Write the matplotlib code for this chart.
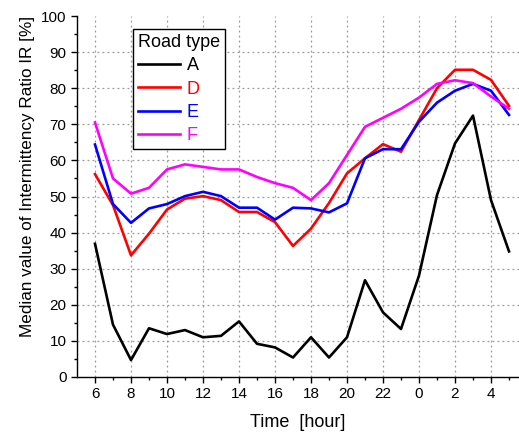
import matplotlib
matplotlib.use("Agg")
import matplotlib.pyplot as plt

plt.rcParams['font.family'] = ['Liberation Sans', 'DejaVu Sans']

hours = [6, 7, 8, 9, 10, 11, 12, 13, 14, 15, 16, 17, 18, 19, 20, 21, 22, 23, 0, 1, 2, 3, 4, 5]
road_types = ['A', 'D', 'E', 'F']
colors = ['#000000', '#ff0000', '#0000ff', '#ff00ff']

ir_A = [36.9, 14.5, 4.7, 13.5, 11.9, 13.0, 11.0, 11.4, 15.4, 9.2, 8.2, 5.4,
        11.0, 5.4, 11.0, 26.8, 17.9, 13.3, 28.1, 50.4, 64.7, 72.4, 49.0, 34.8]
ir_D = [56.2, 47.6, 33.7, 39.7, 46.4, 49.4, 50.1, 49.0, 45.7, 45.7, 42.9, 36.3,
        41.1, 48.2, 56.4, 60.6, 64.5, 62.4, 71.2, 80.0, 85.1, 85.1, 82.3, 75.1]
ir_E = [64.4, 47.9, 42.7, 46.7, 47.9, 50.1, 51.3, 50.1, 46.9, 46.9, 43.6, 46.9,
        46.7, 45.6, 48.1, 60.6, 63.1, 63.1, 70.7, 76.0, 79.3, 81.2, 79.3, 72.6]
ir_F = [70.5, 55.0, 50.8, 52.4, 57.5, 58.9, 58.2, 57.5, 57.5, 55.4, 53.7, 52.4,
        49.0, 53.7, 61.5, 69.3, 71.8, 74.3, 77.4, 81.2, 82.2, 81.4, 77.7, 74.3]
series = [ir_A, ir_D, ir_E, ir_F]

W, H = 519, 434
fig = plt.figure(figsize=(W / 100, H / 100), dpi=100)
L, R, B, T = 77, 519, 377, 16
ax = fig.add_axes([L / W, 1 - B / H, (R - L) / W, (B - T) / H])

x = list(range(len(hours)))
lines = []
for vals, name, c in zip(series, road_types, colors):
    ln, = ax.plot(x, vals, color=c, lw=1.9, label=name)
    lines.append(ln)

ax.set_xlim(-1, (R - 95) / 18.0)
ax.set_ylim(0, 100)
ax.set_xticks(x[::2])
ax.set_xticklabels([str(h) for h in hours[::2]])
ax.set_xticks(x[1::2], minor=True)
ax.set_yticks(range(0, 101, 10))
ax.set_yticks(range(5, 100, 10), minor=True)
ax.tick_params(axis='both', which='major', direction='out', length=4.5, width=1, labelsize=11, pad=3)
ax.tick_params(axis='both', which='minor', direction='out', length=2, width=1)
for s in ['top', 'right']:
    ax.spines[s].set_visible(False)
for s in ['left', 'bottom']:
    ax.spines[s].set_linewidth(1.0)

ax.grid(True, which='major', color='#999999', linestyle=(0, (1.5, 2.5)), linewidth=0.9)
ygl = ax.yaxis.get_gridlines()
ygl[0].set_visible(False)
ygl[-1].set_visible(False)
ax.set_axisbelow(True)

ax.set_xlabel('Time  [hour]', fontsize=13, labelpad=9)
ax.set_ylabel('Median value of Intermittency Ratio IR [%]', fontsize=12.3)
ax.yaxis.set_label_coords(-(77 - 35) / (R - L), (B - 176) / (B - T))

leg = ax.legend(handles=lines, title='Road type', loc='upper left',
                bbox_to_anchor=((133 - L) / (R - L), (B - 29) / (B - T)),
                borderaxespad=0, fontsize=13, title_fontsize=13, frameon=True,
                fancybox=False, edgecolor='black', framealpha=1,
                handlelength=2.3, handletextpad=0.4, labelspacing=0.35,
                borderpad=0.28)
leg.get_frame().set_linewidth(1.0)
leg._legend_box.align = 'left'
for txt, c in zip(leg.get_texts(), colors):
    txt.set_color(c)

fig.savefig('out.png', dpi=100)
